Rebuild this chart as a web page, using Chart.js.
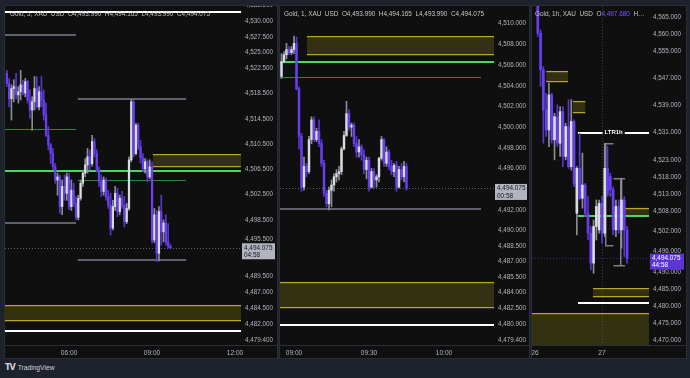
<!DOCTYPE html>
<html>
<head>
<meta charset="utf-8">
<script src="https://cdn.jsdelivr.net/npm/chart.js@4.4.0/dist/chart.umd.min.js"></script>
<style>
  html, body { margin: 0; padding: 0; background: #1e222d; width: 690px; height: 378px; overflow: hidden;
    font-family: "Liberation Sans", Arial, sans-serif; }
  .panel { position: absolute; top: 6px; height: 352px; background: #0f0f0f; box-shadow: 0 0 0 1px #2a2e39; }
  .panel canvas { position: absolute; left: 0; top: 0; }
  .head { position: absolute; top: 4px; font-size: 6.4px; color: #c3c6ce; white-space: nowrap; overflow: hidden; pointer-events: none; }
  .head .v { color: #7e57ff; }
  .logo { position: absolute; left: 5px; top: 363px; color: #d1d4dc; font-size: 6.7px; white-space: nowrap; }
  .logo b { font-size: 8px; letter-spacing: -1px; margin-right: 3px; font-family: "DejaVu Sans", sans-serif; }
</style>
</head>
<body>
<div class="panel" style="left:5px;width:272px"><canvas id="c1" width="272" height="352"></canvas>
  <div class="head" style="left:5px">Gold, 5, XAU_USD&nbsp; O4,493.990&nbsp; H4,494.165&nbsp; L4,493.990&nbsp; C4,494.075</div></div>
<div class="panel" style="left:280px;width:249px"><canvas id="c2" width="249" height="352"></canvas>
  <div class="head" style="left:4px">Gold, 1, XAU_USD&nbsp; O4,493.990&nbsp; H4,494.165&nbsp; L4,493.990&nbsp; C4,494.075</div></div>
<div class="panel" style="left:532px;width:154px"><canvas id="c3" width="154" height="352"></canvas>
  <div class="head" style="left:3px;width:112px">Gold, 1h, XAU_USD&nbsp; O<span class="v">4,497.680</span>&nbsp; H…</div></div>
<div class="logo"><b>TV</b>TradingView</div>

<script>
// ---------- panel 1 : 5 minute candles (time = minutes of the day) ----------
const p1Start = 225;   // 03:45
const p1Step = 5;
const p1Open  = [4521.7,4520.1,4517.7,4519.3,4519.6,4518.3,4518.8,4519.9,4518.6,4520.4,4517.5,4515.9,4517.2,4519.3,4516.4,4518.8,4517.5,4515.1,4511.9,4510.4,4509.0,4506.9,4504.8,4505.3,4500.6,4503.8,4502.7,4505.3,4500.6,4503.2,4501.1,4498.9,4501.9,4504.3,4505.9,4507.2,4508.5,4507.4,4510.9,4509.0,4506.4,4504.5,4503.0,4504.8,4502.2,4500.8,4497.2,4500.6,4502.7,4499.8,4501.9,4500.8,4498.2,4500.3,4508.0,4517.2,4509.0,4513.5,4510.1,4508.3,4506.6,4507.7,4505.3,4506.9,4495.3,4499.3,4493.2,4499.8,4496.6,4498.0,4495.0,4494.3];
const p1High  = [4522.2,4520.9,4519.9,4520.7,4521.7,4519.6,4522.2,4520.6,4520.9,4520.6,4519.1,4518.0,4521.2,4521.2,4519.6,4521.2,4519.1,4517.0,4513.3,4510.6,4509.8,4507.4,4505.9,4505.6,4504.8,4505.6,4505.9,4505.9,4504.8,4504.3,4502.2,4502.4,4504.8,4506.4,4508.2,4509.8,4509.6,4511.9,4511.4,4509.6,4506.9,4505.6,4505.3,4505.1,4503.2,4502.7,4501.6,4503.8,4503.5,4502.4,4503.0,4502.2,4501.1,4508.5,4517.6,4517.4,4513.8,4513.8,4511.1,4509.0,4508.2,4508.0,4508.0,4507.7,4500.3,4500.0,4500.6,4502.4,4498.5,4499.3,4497.9,4494.6];
const p1Low   = [4519.6,4516.4,4514.3,4517.2,4517.7,4517.0,4517.5,4518.3,4518.0,4517.0,4514.6,4512.7,4515.9,4516.2,4515.9,4516.4,4514.3,4511.7,4509.6,4507.4,4506.4,4504.3,4502.4,4499.5,4499.3,4501.6,4501.6,4500.1,4500.0,4500.6,4498.5,4498.5,4501.6,4503.8,4505.3,4505.9,4506.4,4507.0,4508.5,4506.1,4503.8,4502.2,4502.4,4501.6,4500.3,4496.1,4496.9,4500.0,4499.0,4499.3,4500.3,4497.4,4497.9,4500.0,4507.7,4508.5,4508.8,4509.6,4507.5,4506.1,4505.9,4504.5,4505.0,4494.8,4494.9,4491.9,4492.0,4494.5,4495.0,4494.5,4494.0,4493.9];
const p1Close = [4520.1,4517.7,4519.3,4519.6,4518.3,4518.8,4519.9,4518.6,4520.4,4517.5,4515.9,4517.2,4519.3,4516.4,4518.8,4517.5,4515.1,4511.9,4510.4,4509.0,4506.9,4504.8,4505.3,4500.6,4503.8,4502.7,4505.3,4500.6,4503.2,4501.1,4498.9,4501.9,4504.3,4505.9,4507.2,4508.5,4507.4,4510.9,4509.0,4506.4,4504.5,4503.0,4504.8,4502.2,4500.8,4497.2,4500.6,4502.7,4499.8,4501.9,4500.8,4498.2,4500.3,4508.0,4517.2,4509.0,4513.5,4510.1,4508.3,4506.6,4507.7,4505.3,4506.9,4495.3,4499.3,4493.2,4499.8,4496.6,4498.0,4495.0,4494.3,4494.075];
const p1PriceTicks = [4532.5,4530,4527.5,4525,4522.5,4518.5,4514.5,4510.5,4506.5,4502.5,4498.5,4495.5,4489.5,4487,4484.5,4482,4479.4];
const p1TimeTicks = [360, 540, 720];
const p1TimeLabels = ["06:00", "09:00", "12:00"];
// [from, to, top, bottom]
const p1Zones = [[542, 733, 4508.9, 4506.9], [221, 733, 4485.0, 4482.4]];
// [from, to, price, kind]
const p1Lines = [[221,733,4531.5,"white"],[221,375,4527.8,"gray"],[379,614,4517.6,"gray"],[221,375,4512.8,"dkgreen"],
  [221,733,4506.3,"green"],[379,614,4504.75,"dkgreen"],[221,375,4498.0,"gray"],[379,614,4492.1,"gray"],[221,733,4480.9,"white"]];

// ---------- panel 2 : 1 minute candles ----------
const p2Start = 535;   // 08:55
const p2Step = 1;
const p2Open  = [4504.9,4506.3,4507.0,4507.5,4507.2,4507.5,4508.1,4503.7,4499.1,4494.2,4496.2,4495.7,4498.8,4500.7,4498.8,4499.6,4498.4,4496.5,4493.6,4492.6,4493.9,4494.4,4495.2,4495.5,4495.7,4497.9,4499.2,4501.3,4500.0,4500.2,4498.4,4497.6,4498.1,4497.3,4495.9,4496.8,4494.2,4495.7,4494.9,4495.2,4497.0,4498.8,4496.5,4497.6,4496.2,4495.7,4496.3,4494.2,4495.9,4495.2,4496.2];
const p2High  = [4507.1,4507.3,4508.1,4507.8,4507.8,4508.8,4508.7,4503.9,4499.4,4497.1,4496.5,4499.1,4501.0,4501.0,4499.9,4500.7,4498.8,4496.8,4493.9,4494.2,4494.9,4495.5,4495.9,4496.2,4498.1,4499.6,4502.5,4501.7,4500.4,4500.4,4499.1,4498.8,4498.3,4497.8,4497.1,4497.1,4496.0,4496.0,4495.4,4497.1,4499.1,4498.9,4498.1,4497.8,4496.8,4496.5,4496.7,4496.2,4496.5,4496.7,4496.5];
const p2Low   = [4504.7,4506.2,4506.6,4507.0,4507.0,4507.1,4503.6,4497.9,4493.8,4493.9,4495.2,4495.5,4498.4,4498.6,4498.6,4498.1,4496.2,4493.3,4492.3,4492.0,4492.3,4493.8,4494.7,4494.9,4495.4,4497.8,4499.1,4499.7,4499.1,4498.1,4497.1,4497.1,4496.8,4495.5,4495.0,4493.8,4494.1,4494.1,4494.2,4494.7,4496.8,4496.2,4496.2,4495.9,4495.4,4495.2,4493.8,4494.1,4494.9,4494.7,4493.9];
const p2Close = [4506.3,4507.0,4507.5,4507.2,4507.5,4508.1,4503.7,4499.1,4494.2,4496.2,4495.7,4498.8,4500.7,4498.8,4499.6,4498.4,4496.5,4493.6,4492.6,4493.9,4494.4,4495.2,4495.5,4495.7,4497.9,4499.2,4501.3,4500.0,4500.2,4498.4,4497.6,4498.1,4497.3,4495.9,4496.8,4494.2,4495.7,4494.9,4495.2,4497.0,4498.8,4496.5,4497.6,4496.2,4495.7,4496.3,4494.2,4495.9,4495.2,4496.2,4494.075];
const p2PriceTicks = [4510,4508,4506,4504,4502,4500,4498,4496,4492,4490,4488.5,4487,4485.5,4484,4482.5,4480.9,4479.4];
const p2TimeTicks = [540, 570, 600];
const p2TimeLabels = ["09:00", "09:30", "10:00"];
const p2Zones = [[545.2, 620, 4508.8, 4506.95], [534, 620, 4485.05, 4482.5]];
const p2Lines = [[534,620,4506.3,"green"],[534,614.8,4504.8,"dkgreen"],[534,614.8,4492.05,"gray"],[534,620,4480.9,"white"]];

// ---------- panel 3 : 1 hour candles (time = hours from the 26th 00:00) ----------
const p3Start = 1;
const p3Step = 1;
const p3Open  = [4572.1,4560.3,4549.5,4537.7,4531.8,4542.1,4528.9,4535.7,4527.9,4537.2,4524.0,4532.8,4521.0,4534.3,4507.3,4520.5,4511.7,4515.6,4507.3,4501.4,4492.6,4503.4,4502.4,4510.2,4501.4,4520.5,4518.1,4514.2,4502.4,4509.3,4502.4,4511.2,4502.4];
const p3High  = [4574.0,4561.3,4550.5,4542.6,4545.6,4542.6,4536.7,4539.2,4538.7,4538.7,4533.8,4540.7,4540.7,4534.8,4521.0,4530.8,4525.0,4516.1,4512.2,4503.4,4505.3,4511.2,4511.2,4512.2,4527.9,4526.9,4519.1,4515.1,4511.2,4511.2,4517.6,4512.2,4503.4];
const p3Low   = [4559.3,4544.6,4527.9,4529.9,4526.9,4527.9,4523.0,4526.9,4524.0,4521.0,4523.0,4520.5,4520.0,4515.1,4500.9,4511.2,4508.8,4506.3,4499.4,4490.6,4489.6,4499.4,4501.4,4498.5,4500.4,4512.2,4512.2,4500.9,4500.4,4501.4,4497.0,4494.5,4492.6];
const p3Close = [4560.3,4549.5,4537.7,4531.8,4542.1,4528.9,4535.7,4527.9,4537.2,4524.0,4532.8,4521.0,4534.3,4516.1,4520.5,4511.7,4515.6,4507.3,4501.4,4492.6,4503.4,4509.3,4510.2,4501.4,4520.5,4513.2,4514.2,4502.4,4509.3,4502.4,4511.2,4502.4,4494.075];
const p3PriceTicks = [4565,4560,4555,4547,4539,4531,4523,4518,4513,4508,4502,4496,4490,4485,4480,4475,4470];
const p3TimeTicks = [0, 24];
const p3TimeLabels = ["26", "27"];
const p3Zones = [[4.05, 11.85, 4549.2, 4545.9], [13.6, 18.0, 4540.4, 4536.7], [31.5, 41, 4508.95, 4506.6],
  [20.8, 41, 4485.2, 4482.5], [-2, 41, 4477.8, 4460]];
const p3Lines = [[15.4,41,4531.0,"white"],[15.4,41,4506.4,"green"],[25.1,28.3,4512.9,"dkgreen"],
  [28.0,32.3,4504.9,"dkgreen"],[15.4,41,4480.9,"white"]];
// [from, to, vertical at, top, bottom]
const p3Brackets = [[25.1, 28.1, 25.1, 4527.9, 4498.0], [28.1, 32.3, 30.6, 4517.6, 4492.1]];
const p3Tag = [28.2, 4531.0, "LTR1h"];

const lastPrice = 4494.075;
const countdowns = ["04:58", "00:58", "44:58"];

// ---------- styles ----------
const FONT = "'Liberation Sans', Arial, sans-serif";
const UP = "#d9dbe2", UP_WICK = "#8a8d96";
const DOWN = "#6a3ff0", DOWN_WICK = "#5a36d0";
const lineStyles = {
  white:   { color: "#ffffff", width: 2 },
  gray:    { color: "#5f626c", width: 2 },
  green:   { color: "#4fd65c", width: 2 },
  dkgreen: { color: "#2c8a36", width: 1 }
};

const fmtPrice = v => v.toLocaleString("en-US", { minimumFractionDigits: 3, maximumFractionDigits: 3 });

const overlayPlugin = {
  id: "overlay",
  beforeDatasetsDraw(chart, args, o) {
    const { ctx, chartArea: a, scales: { x, y } } = chart;
    ctx.save();
    ctx.beginPath();
    ctx.rect(a.left, a.top, a.width, a.height);
    ctx.clip();

    if (o.vline !== undefined) {
      const vx = Math.round(x.getPixelForValue(o.vline)) + 0.5;
      ctx.strokeStyle = "#3a3e4a"; ctx.lineWidth = 1; ctx.setLineDash([1, 2]);
      ctx.beginPath(); ctx.moveTo(vx, a.top); ctx.lineTo(vx, a.bottom); ctx.stroke();
      ctx.setLineDash([]);
    }

    (o.zones || []).forEach(z => {
      const x0 = x.getPixelForValue(z[0]), x1 = x.getPixelForValue(z[1]);
      const y0 = y.getPixelForValue(z[2]), y1 = y.getPixelForValue(z[3]);
      ctx.fillStyle = "rgba(105,95,25,0.42)";
      ctx.fillRect(x0, y0, x1 - x0, y1 - y0);
      ctx.fillStyle = "#b9a823";
      ctx.fillRect(x0, Math.round(y0), x1 - x0, 1.2);
      ctx.fillRect(x0, Math.round(y1) - 1, x1 - x0, 1.2);
    });

    // current price line
    const py = Math.round(y.getPixelForValue(lastPrice)) + 0.5;
    ctx.strokeStyle = o.priceLine; ctx.lineWidth = 1; ctx.setLineDash([1, 2]);
    ctx.beginPath(); ctx.moveTo(a.left, py); ctx.lineTo(a.right, py); ctx.stroke();
    ctx.setLineDash([]);

    (o.lines || []).forEach(l => {
      const s = lineStyles[l[3]];
      const x0 = x.getPixelForValue(l[0]), x1 = x.getPixelForValue(l[1]);
      const ly = y.getPixelForValue(l[2]);
      ctx.fillStyle = s.color;
      ctx.fillRect(x0, Math.round(ly - s.width / 2), x1 - x0, s.width);
    });

    (o.brackets || []).forEach(b => {
      const x0 = x.getPixelForValue(b[0]), x1 = x.getPixelForValue(b[1]), xv = x.getPixelForValue(b[2]);
      const y0 = Math.round(y.getPixelForValue(b[3])), y1 = Math.round(y.getPixelForValue(b[4]));
      ctx.fillStyle = "#7c7f89";
      ctx.fillRect(x0, y0, x1 - x0, 1.5);
      ctx.fillRect(x0, y1, x1 - x0, 1.5);
      ctx.fillRect(Math.round(xv), y0, 1.5, y1 - y0);
    });

    if (o.tag) {
      const tx = x.getPixelForValue(o.tag[0]), ty = y.getPixelForValue(o.tag[1]);
      ctx.font = "bold 6px " + FONT;
      const w = ctx.measureText(o.tag[2]).width;
      ctx.fillStyle = "#0f0f0f";
      ctx.fillRect(tx - w / 2 - 2, ty - 4, w + 4, 8);
      ctx.fillStyle = "#ffffff"; ctx.textAlign = "center"; ctx.textBaseline = "middle";
      ctx.fillText(o.tag[2], tx, ty);
    }
    ctx.restore();
  },
  afterDraw(chart, args, o) {
    const { ctx, chartArea: a, scales: { y } } = chart;
    ctx.save();
    // separator above the time axis
    ctx.fillStyle = "#2a2e39";
    ctx.fillRect(0, a.bottom, chart.width, 1);
    // price box
    const py = y.getPixelForValue(lastPrice);
    ctx.fillStyle = o.boxBg;
    ctx.fillRect(a.right + 1, py - 4.5, chart.width - a.right - 3, 16);
    ctx.fillStyle = o.boxFg;
    ctx.font = "6.4px " + FONT; ctx.textAlign = "left"; ctx.textBaseline = "middle";
    ctx.fillText(fmtPrice(lastPrice), a.right + 3, py);
    ctx.fillText(o.countdown, a.right + 3, py + 7.5);
    ctx.restore();
  }
};

function candleSets(start, step, o, h, l, c, bodyW) {
  const wicks = [], bodies = [], wickCol = [], bodyCol = [];
  for (let i = 0; i < o.length; i++) {
    const t = start + i * step;
    const up = c[i] >= o[i];
    wicks.push({ x: t, y: [l[i], h[i]] });
    bodies.push({ x: t, y: [o[i], c[i]] });
    wickCol.push(up ? UP_WICK : DOWN_WICK);
    bodyCol.push(up ? UP : DOWN);
  }
  return [
    { data: wicks, backgroundColor: wickCol, barThickness: 1, grouped: false, order: 2 },
    { data: bodies, backgroundColor: bodyCol, barThickness: bodyW, grouped: false, minBarLength: 1, order: 1 }
  ];
}

function makeChart(id, cfg) {
  const ctx = document.getElementById(id).getContext("2d");
  return new Chart(ctx, {
    type: "bar",
    data: { datasets: candleSets(cfg.start, cfg.step, cfg.open, cfg.high, cfg.low, cfg.close, cfg.bodyW) },
    options: {
      responsive: false,
      animation: false,
      devicePixelRatio: 1,
      layout: { padding: 0 },
      plugins: {
        legend: { display: false },
        tooltip: { enabled: false },
        overlay: cfg.overlay
      },
      scales: {
        x: {
          type: "linear", min: cfg.xMin, max: cfg.xMax, offset: false, bounds: "data",
          grid: { display: false, drawTicks: false, offset: false },
          border: { display: false },
          ticks: {
            color: "#b2b5be", font: { size: 6.6, family: FONT }, padding: 4, maxRotation: 0, autoSkip: false,
            callback: v => cfg.timeLabels[cfg.timeTicks.indexOf(v)]
          },
          afterBuildTicks: s => { s.ticks = cfg.timeTicks.map(v => ({ value: v })); },
          afterFit: s => { s.height = 13; s.paddingLeft = 0; s.paddingRight = 0; }
        },
        y: {
          position: "right", min: cfg.yMin, max: cfg.yMax, bounds: "data",
          grid: { display: false, drawTicks: false },
          border: { display: false },
          ticks: {
            color: "#b2b5be", font: { size: 6.3, family: FONT }, padding: 4, autoSkip: false,
            callback: v => fmtPrice(v)
          },
          afterBuildTicks: s => { s.ticks = cfg.priceTicks.map(v => ({ value: v })); },
          afterFit: s => { s.width = cfg.axisW; s.paddingTop = 0; s.paddingBottom = 0; }
        }
      }
    },
    plugins: [overlayPlugin]
  });
}

makeChart("c1", {
  start: p1Start, step: p1Step, open: p1Open, high: p1High, low: p1Low, close: p1Close, bodyW: 1.6,
  xMin: 221, xMax: 733, yMin: 4478.67, yMax: 4532.38, axisW: 36,
  priceTicks: p1PriceTicks, timeTicks: p1TimeTicks, timeLabels: p1TimeLabels,
  overlay: { zones: p1Zones, lines: p1Lines, priceLine: "#5d606b", boxBg: "#b2b5be", boxFg: "#131722", countdown: countdowns[0] }
});

makeChart("c2", {
  start: p2Start, step: p2Step, open: p2Open, high: p2High, low: p2Low, close: p2Close, bodyW: 1.8,
  xMin: 534.4, xMax: 620, yMin: 4478.94, yMax: 4511.71, axisW: 35,
  priceTicks: p2PriceTicks, timeTicks: p2TimeTicks, timeLabels: p2TimeLabels,
  overlay: { zones: p2Zones, lines: p2Lines, priceLine: "#5d606b", boxBg: "#b2b5be", boxFg: "#131722", countdown: countdowns[1] }
});

makeChart("c3", {
  start: p3Start, step: p3Step, open: p3Open, high: p3High, low: p3Low, close: p3Close, bodyW: 2,
  xMin: -1.07, xMax: 40.86, yMin: 4468.5, yMax: 4568.3, axisW: 37,
  priceTicks: p3PriceTicks, timeTicks: p3TimeTicks, timeLabels: p3TimeLabels,
  overlay: { zones: p3Zones, lines: p3Lines, brackets: p3Brackets, tag: p3Tag, vline: 24,
    priceLine: "#3b2a8a", boxBg: "#5e35d5", boxFg: "#ffffff", countdown: countdowns[2] }
});
</script>
</body>
</html>
